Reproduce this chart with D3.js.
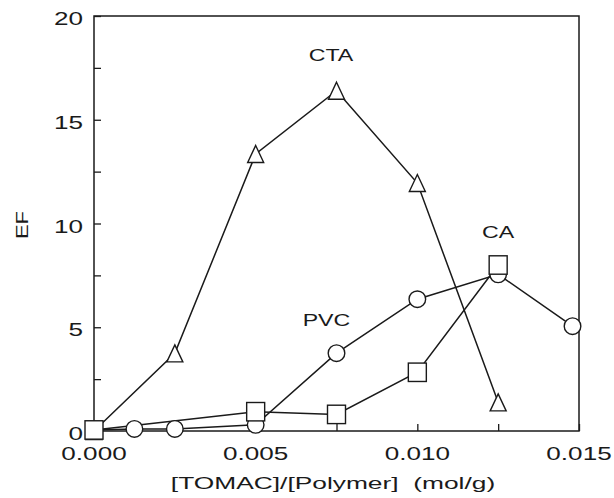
<!DOCTYPE html>
<html>
<head>
<meta charset="utf-8">
<script src="https://cdn.jsdelivr.net/npm/d3@7"></script>
<style>
  html, body { margin: 0; padding: 0; background: #fff; }
  svg { display: block; }
  text { font-family: "Liberation Sans", Arial, sans-serif; fill: #1a1a1a; }
</style>
</head>
<body>
<svg id="chart" width="614" height="498"></svg>
<script>
// ---- data ----
const ctaX = [0, 0.0025, 0.005, 0.0075, 0.010, 0.0125];
const ctaY = [0, 3.74, 13.35, 16.4, 11.95, 1.38];

const pvcX = [0, 0.00125, 0.0025, 0.005, 0.0075, 0.010, 0.0125, 0.0148];
const pvcY = [0.05, 0.1, 0.1, 0.3, 3.75, 6.35, 7.55, 5.05];

const caX = [0, 0.005, 0.0075, 0.010, 0.0125];
const caY = [0.05, 0.93, 0.8, 2.83, 8.0];

const xTicks = [0, 0.005, 0.010, 0.015];
const xTickLabels = ["0.000", "0.005", "0.010", "0.015"];
const xMinor = [0.0025, 0.0075, 0.0125];
const yTicks = [0, 5, 10, 15, 20];
const yTickLabels = ["0", "5", "10", "15", "20"];
const yMinor = [2.5, 7.5, 12.5, 17.5];

const seriesLabels = [
  { text: "CTA", x: 0.00733, y: 17.85 },
  { text: "CA", x: 0.0125, y: 9.3 },
  { text: "PVC", x: 0.00719, y: 5.05 }
];
const xTitle = "[TOMAC]/[Polymer]\u00a0\u00a0(mol/g)";
const yTitle = "EF";

// ---- chart ----
const svg = d3.select("#chart");
const ink = "#1a1a1a";
const pLeft = 94, pRight = 579, pTop = 16, pBottom = 431;
const x = d3.scaleLinear().domain([0, 0.015]).range([pLeft, pRight]);
const y = d3.scaleLinear().domain([0, 20]).range([pBottom, pTop]);

function stretchedText(g, str, px, py, size, anchor, rotate, sx) {
  return g.append("text")
    .attr("transform", `translate(${px},${py})` + (rotate ? ` rotate(${rotate})` : "") + ` scale(${sx || 1.45},1)`)
    .attr("text-anchor", anchor)
    .attr("font-size", size)
    .text(str);
}

// frame
svg.append("rect")
  .attr("x", pLeft).attr("y", pTop)
  .attr("width", pRight - pLeft).attr("height", pBottom - pTop)
  .attr("fill", "none").attr("stroke", ink).attr("stroke-width", 1.5);

// inward ticks via d3 axes
const xAxis = d3.axisBottom(x).tickValues(xTicks.concat(xMinor)).tickSize(-7).tickFormat("");
const gx = svg.append("g").attr("transform", `translate(0,${pBottom})`).call(xAxis);
const yAxis = d3.axisLeft(y).tickValues(yTicks.concat(yMinor)).tickSize(-7).tickFormat("");
const gy = svg.append("g").attr("transform", `translate(${pLeft},0)`).call(yAxis);
[gx, gy].forEach(g => {
  g.select(".domain").remove();
  g.selectAll("line").attr("stroke", ink).attr("stroke-width", 1.3);
});

// tick labels
const labelsG = svg.append("g");
xTicks.forEach((v, i) => stretchedText(labelsG, xTickLabels[i], x(v), 460, 18, "middle"));
yTicks.forEach((v, i) => stretchedText(labelsG, yTickLabels[i], 83, y(v) + 9, 18, "end"));

// axis titles
stretchedText(labelsG, xTitle, 333, 489, 17, "middle", null, 1.55);
stretchedText(labelsG, yTitle, 28, 225, 17, "middle", -90, 1.3);

// lines
const line = d3.line().x(d => x(d[0])).y(d => y(d[1]));
const cta = ctaX.map((v, i) => [v, ctaY[i]]);
const pvc = pvcX.map((v, i) => [v, pvcY[i]]);
const ca = caX.map((v, i) => [v, caY[i]]);
[cta, pvc, ca].forEach(s => {
  svg.append("path").datum(s).attr("d", line)
    .attr("fill", "none").attr("stroke", ink).attr("stroke-width", 1.5);
});

// markers
const mk = svg.append("g").attr("fill", "#fff").attr("stroke", ink).attr("stroke-width", 1.4);
mk.selectAll("path.tri").data(cta).join("path").attr("class", "tri")
  .attr("d", d => {
    const cx = x(d[0]), cy = y(d[1]);
    return `M${cx},${cy - 8.5}L${cx + 8},${cy + 8.5}L${cx - 8},${cy + 8.5}Z`;
  });
mk.selectAll("circle").data(pvc).join("circle")
  .attr("cx", d => x(d[0])).attr("cy", d => y(d[1])).attr("r", 8.3);
mk.selectAll("rect").data(ca).join("rect")
  .attr("x", d => x(d[0]) - 9).attr("y", d => y(d[1]) - 9.2)
  .attr("width", 18).attr("height", 18.4);

// series labels
seriesLabels.forEach(l => stretchedText(labelsG, l.text, x(l.x), y(l.y), 16, "middle"));
</script>
</body>
</html>
